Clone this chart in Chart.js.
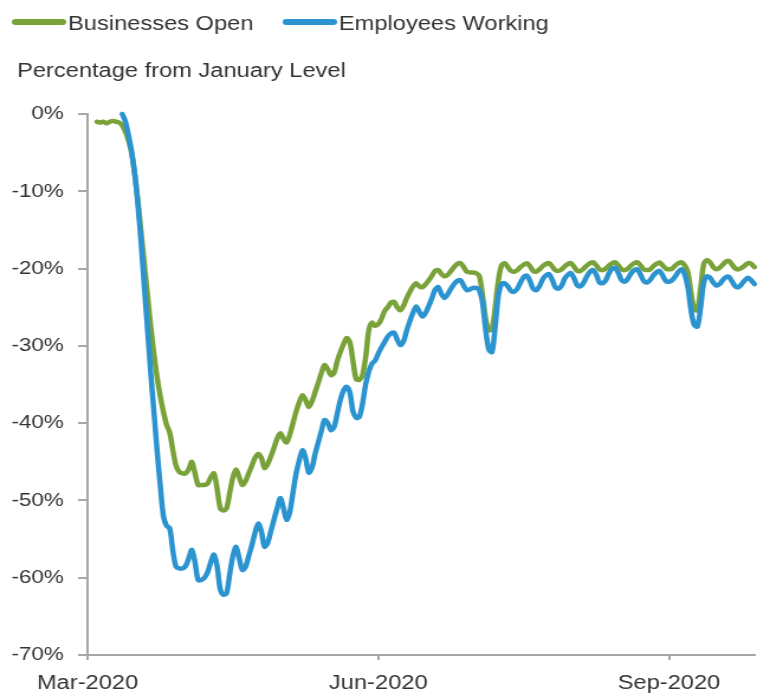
<!DOCTYPE html>
<html>
<head>
<meta charset="utf-8">
<title>Businesses Open and Employees Working</title>
<script src="https://cdn.jsdelivr.net/npm/chart.js@4.4.1/dist/chart.umd.min.js"></script>
<style>
  html, body { margin: 0; padding: 0; background: #fff; overflow: hidden; }
  body { width: 757px; height: 696px; }
  /* the chart is drawn 640 wide and stretched out to 757 */
  #wrap { width: 640px; height: 696px; transform: scaleX(1.1828); transform-origin: 0 0; }
</style>
</head>
<body>
<div id="wrap"><canvas id="chart"></canvas></div>
<script>
// daily values, index 0 = 1 Mar 2020, % change from January level
const businessesOpen = [
  null, null, null, -1.0, -1.1, -1.0, -1.2,
  -1.0, -0.9, -1.0, -1.1, -1.5, -2.3, -3.5,
  -5.2, -8, -11.5, -15.5, -19.5, -23.5, -27.5,
  -31, -34, -36.5, -38.5, -40.2, -41.2, -43.5,
  -45.5, -46.3, -46.5, -46.5, -46, -45, -46.5,
  -48, -48, -48, -47.8, -47, -46.5, -48.5,
  -51, -51.3, -51, -49, -47, -46, -47,
  -48, -47.5, -46.5, -45.5, -44.5, -44, -44.5,
  -45.8, -45.3, -44.3, -43.2, -42, -41.3, -42,
  -42.5, -41.5, -40, -38.5, -37.3, -36.4, -37,
  -37.9, -37.2, -36, -34.8, -33.5, -32.5, -33,
  -33.8, -33.5, -32, -30.8, -29.8, -29, -29.5,
  -32, -34.3, -34.4, -33.8, -31.5, -28, -27,
  -27.4, -27.2, -26.5, -25.5, -25, -24.4, -24.3,
  -25, -25.4, -24.8, -23.8, -23, -22.3, -21.9,
  -22.3, -22.4, -22, -21.5, -20.9, -20.3, -20.2,
  -20.7, -21, -20.8, -20.3, -19.8, -19.4, -19.3,
  -19.8, -20.4, -20.5, -20.5, -20.6, -21, -23.5,
  -26.5, -28, -27.8, -25, -21.5, -19.6, -19.3,
  -19.8, -20.3, -20.4, -20.2, -19.8, -19.5, -19.3,
  -19.7, -20.3, -20.4, -20.1, -19.7, -19.4, -19.3,
  -19.7, -20.2, -20.3, -20.1, -19.7, -19.4, -19.3,
  -19.8, -20.3, -20.3, -20.0, -19.6, -19.3, -19.2,
  -19.6, -20.1, -20.2, -20.0, -19.6, -19.3, -19.2,
  -19.6, -20.1, -20.2, -20.0, -19.6, -19.3, -19.2,
  -19.6, -20.1, -20.2, -20.1, -19.7, -19.4, -19.2,
  -19.6, -20.0, -20.1, -20.0, -19.6, -19.3, -19.2,
  -19.6, -20.5, -23.2, -25.3, -25.4, -22.5, -19.4,
  -18.9, -19.2, -19.8, -20.1, -19.9, -19.5, -19.1,
  -19.0, -19.5, -20.0, -20.1, -19.9, -19.6, -19.3,
  -19.4, -19.8
];

const employeesWorking = [
  null, null, null, null, null, null, null,
  null, null, null, null, 0, -1, -2.8,
  -5, -8, -12, -17, -22.5, -28, -33.5,
  -38.5, -43.5, -48, -52, -53.3, -53.6, -56.5,
  -58.6, -58.8, -58.8, -58.5, -57.5, -56.4, -58,
  -60.3, -60.3, -60, -59.3, -58, -57, -58.5,
  -61.5, -62.2, -62, -59.5, -57.2, -56, -57.5,
  -59, -58.6, -57.2, -55.8, -54.2, -53, -54,
  -56, -55.5, -54, -52.5, -51, -49.7, -51,
  -52.5, -51.5, -49, -46.5, -44.8, -43.5, -44.5,
  -46.4, -45.8, -44, -42.5, -41, -39.6, -40,
  -40.9, -40.5, -38.8, -37, -35.8, -35.3, -36,
  -38.5, -39.3, -39.2, -37.5, -35, -33.3, -32.3,
  -31.9, -31, -30.2, -29.5, -28.8, -28.4, -28.3,
  -29.2, -29.9, -29.4, -28, -26.8, -25.7, -24.9,
  -25.6, -26.2, -25.7, -24.8, -23.8, -22.7, -22.4,
  -23.3, -23.8, -23.3, -22.6, -22, -21.6, -21.5,
  -22.2, -22.8, -22.7, -22.5, -22.5, -22.8, -24.5,
  -28, -30.5, -30.8, -27.5, -23.5, -22, -21.9,
  -22.3, -22.9, -23, -22.6, -21.8, -21.1, -20.9,
  -21.6, -22.6, -22.8, -22.3, -21.4, -20.9, -20.7,
  -21.4, -22.4, -22.6, -22.2, -21.3, -20.8, -20.6,
  -21.3, -22.2, -22.3, -21.8, -21, -20.4, -20.2,
  -20.8, -21.8, -21.9, -21.5, -20.6, -20, -19.9,
  -20.6, -21.5, -21.7, -21.3, -20.6, -20.2, -20.1,
  -20.8, -21.6, -21.8, -21.5, -20.9, -20.5, -20.3,
  -20.9, -21.6, -21.7, -21.5, -21.0, -20.4, -20.1,
  -20.8, -22.5, -25.5, -27.3, -27.5, -25, -21.8,
  -21, -21.2, -21.8, -22.2, -22, -21.5, -21.1,
  -21.1, -21.7, -22.3, -22.4, -22, -21.5, -21.2,
  -21.5, -22
];

const seriesNames = ["Businesses Open", "Employees Working"];
const seriesColors = ["#7aa23a", "#2a93d0"];

const xTickDays = [0, 92, 184];
const xTickLabels = ["Mar-2020", "Jun-2020", "Sep-2020"];
const yTicks = [0, -10, -20, -30, -40, -50, -60, -70];
const axisTitle = "Percentage from January Level";

const days = businessesOpen.map((_, i) => i);

const FONT = '"Liberation Sans", Arial, sans-serif';
const TEXT = "#333";
const AXIS = "#a6a6a6";

// legend row and the unit line above the plot
const headerText = {
  id: "headerText",
  afterDraw(chart) {
    const ctx = chart.ctx;
    const itemX = [10, 239];
    ctx.save();
    ctx.font = "20px " + FONT;
    ctx.textBaseline = "alphabetic";
    ctx.lineCap = "round";
    ctx.lineWidth = 6;
    seriesNames.forEach((name, i) => {
      const x = itemX[i];
      ctx.strokeStyle = seriesColors[i];
      ctx.beginPath();
      ctx.moveTo(x + 3, 22);
      ctx.lineTo(x + 43, 22);
      ctx.stroke();
      ctx.fillStyle = TEXT;
      ctx.fillText(name, x + 47.5, 30);
    });
    ctx.fillText(axisTitle, 14.4, 77);
    ctx.restore();
  }
};

new Chart(document.getElementById("chart"), {
  type: "line",
  data: {
    labels: days,
    datasets: [
      {
        label: seriesNames[0],
        data: businessesOpen,
        borderColor: seriesColors[0],
        order: 1
      },
      {
        label: seriesNames[1],
        data: employeesWorking,
        borderColor: seriesColors[1],
        order: 0
      }
    ]
  },
  options: {
    responsive: true,
    maintainAspectRatio: false,
    animation: false,
    layout: { padding: { top: 114, left: 0, right: 0, bottom: 0 } },
    elements: {
      line: { borderWidth: 4.5, tension: 0.3, borderCapStyle: "round", borderJoinStyle: "round" },
      point: { radius: 0 }
    },
    datasets: { line: { clip: 6, spanGaps: false } },
    plugins: {
      legend: { display: false },
      title: { display: false },
      tooltip: { enabled: false }
    },
    scales: {
      x: {
        type: "linear",
        min: 0,
        max: 211,
        afterBuildTicks: s => { s.ticks = xTickDays.map(v => ({ value: v })); },
        afterFit: s => { s.height = 41; },
        ticks: {
          autoSkip: false,
          maxRotation: 0,
          padding: 11,
          color: TEXT,
          font: { family: FONT, size: 20 },
          callback: (v, i) => xTickLabels[i]
        },
        grid: { drawOnChartArea: false, drawTicks: true, tickLength: 5, color: AXIS, lineWidth: 2 },
        border: { color: AXIS, width: 2 }
      },
      y: {
        min: -70,
        max: 0,
        afterBuildTicks: s => { s.ticks = yTicks.map(v => ({ value: v })); },
        afterFit: s => { s.width = 74; },
        ticks: {
          padding: 12,
          color: TEXT,
          font: { family: FONT, size: 19 },
          callback: v => v + "%"
        },
        grid: { drawOnChartArea: false, drawTicks: true, tickLength: 8, color: AXIS, lineWidth: 2 },
        border: { color: AXIS, width: 2 }
      }
    }
  },
  plugins: [headerText]
});
</script>
</body>
</html>
